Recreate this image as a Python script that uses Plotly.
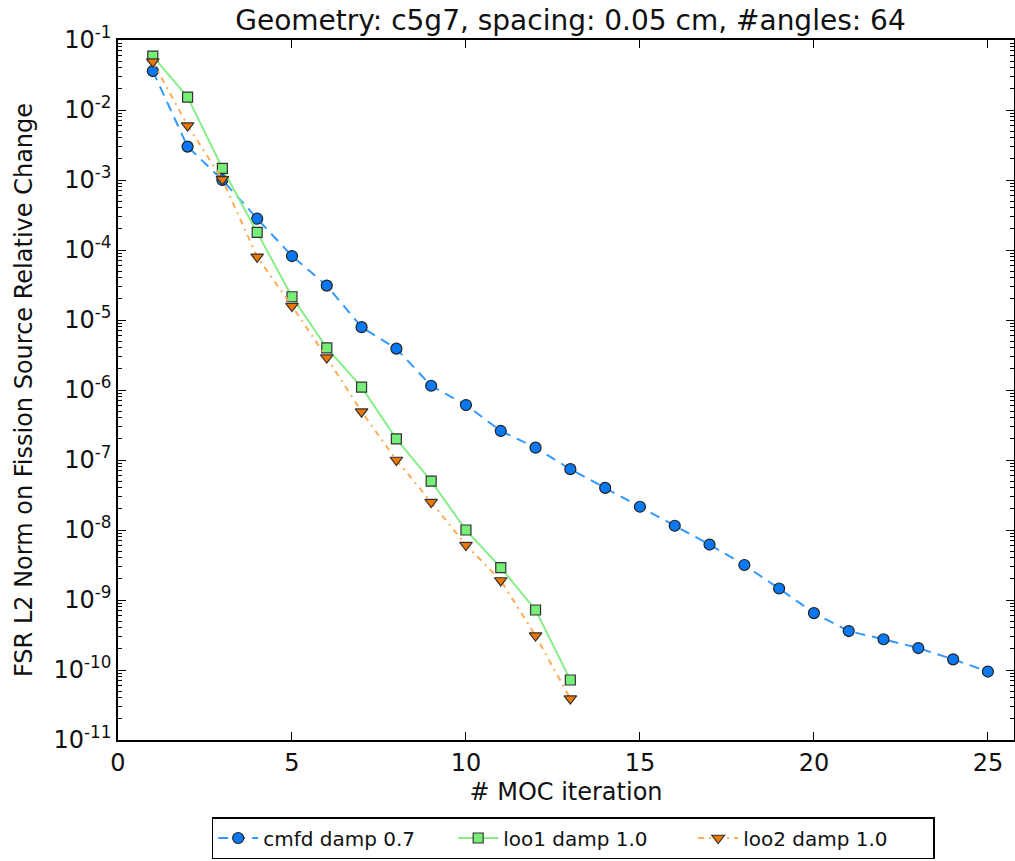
import plotly.graph_objects as go

iters_cmfd = list(range(1, 26))
cmfd = [3.6e-2, 3.0e-3, 1.0e-3, 2.8e-4, 8.2e-5, 3.1e-5, 7.9e-6, 3.9e-6, 1.15e-6, 6.1e-7,
        2.6e-7, 1.5e-7, 7.4e-8, 4.0e-8, 2.15e-8, 1.15e-8, 6.2e-9, 3.16e-9, 1.46e-9, 6.5e-10,
        3.6e-10, 2.75e-10, 2.06e-10, 1.42e-10, 9.5e-11]

iters_loo = list(range(1, 14))
loo1 = [5.9e-2, 1.53e-2, 1.47e-3, 1.78e-4, 2.15e-5, 4.0e-6, 1.1e-6, 2.0e-7, 5.0e-8, 1.0e-8,
        2.9e-9, 7.2e-10, 7.2e-11]
loo2 = [4.9e-2, 6.0e-3, 1.02e-3, 8.0e-5, 1.58e-5, 2.9e-6, 4.9e-7, 1.0e-7, 2.5e-8, 6.1e-9,
        1.9e-9, 3.1e-10, 3.9e-11]

x_ticks = [0, 5, 10, 15, 20, 25]
y_exps = list(range(-11, 0))
y_ticks = [10.0 ** e for e in y_exps]
y_labels = [f"10<sup>{e}</sup>" for e in y_exps]
y_minor = [m * 10.0 ** e for e in range(-11, -1) for m in range(2, 10)]

FONT = "DejaVu Sans"

fig = go.Figure()
fig.add_trace(go.Scatter(
    x=iters_cmfd, y=cmfd, name="cmfd damp 0.7", mode="lines+markers",
    line=dict(color="#3399ff", width=2, dash="10px,7px"),
    marker=dict(symbol="circle", size=11, color="#0a78f0", line=dict(color="#222222", width=1.2)),
))
fig.add_trace(go.Scatter(
    x=iters_loo, y=loo1, name="loo1 damp 1.0", mode="lines+markers",
    line=dict(color="#88ee88", width=2),
    marker=dict(symbol="square", size=10, color="#77ee77", line=dict(color="#333333", width=1.2)),
))
fig.add_trace(go.Scatter(
    x=iters_loo, y=loo2, name="loo2 damp 1.0", mode="lines+markers",
    line=dict(color="#ffaa55", width=2, dash="6px,5px,2px,5px"),
    marker=dict(symbol="triangle-down", size=11, color="#ee7700", line=dict(color="#333333", width=1.2)),
))

fig.update_layout(
    width=1015, height=861,
    margin=dict(l=118, r=1, t=40, b=121, autoexpand=False),
    paper_bgcolor="white", plot_bgcolor="white",
    font=dict(family=FONT, color="#111111"),
    title=dict(text="Geometry: c5g7, spacing: 0.05 cm, #angles: 64",
               x=0.505, xref="paper", xanchor="center", y=0.976, yanchor="middle",
               font=dict(size=28, family=FONT)),
    showlegend=True,
    legend=dict(orientation="h", x=0.508, xanchor="center", y=-0.11, yanchor="top",
                bordercolor="black", borderwidth=1.5, bgcolor="white",
                font=dict(size=20, family=FONT), itemwidth=40, entrywidth=185,
                tracegroupgap=0),
)
fig.update_xaxes(
    range=[0, 25.75], tickvals=x_ticks, ticktext=[str(v) for v in x_ticks],
    showgrid=False, zeroline=False,
    showline=True, linecolor="black", linewidth=1.5, mirror="ticks",
    ticks="inside", ticklen=8, tickwidth=1, tickcolor="black",
    tickfont=dict(size=24, family=FONT),
    title=dict(text="# MOC iteration", font=dict(size=24, family=FONT), standoff=8),
)
fig.update_yaxes(
    type="log", range=[-11, -1], tickvals=y_ticks, ticktext=y_labels,
    showgrid=False, zeroline=False,
    showline=True, linecolor="black", linewidth=1.5, mirror="ticks",
    ticks="inside", ticklen=8, tickwidth=1, tickcolor="black",
    minor=dict(tickvals=y_minor, ticks="inside", ticklen=4, tickwidth=1, tickcolor="black", showgrid=False),
    tickfont=dict(size=24, family=FONT),
    title=dict(text="FSR L2 Norm on Fission Source Relative Change", font=dict(size=24, family=FONT), standoff=14),
)

fig.write_html("out.html")
